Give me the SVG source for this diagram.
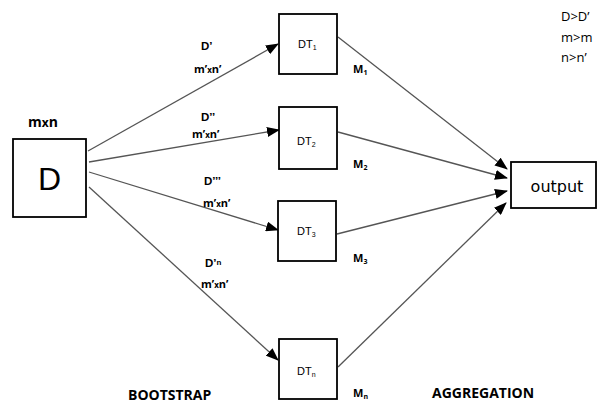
<svg xmlns="http://www.w3.org/2000/svg" width="598" height="405" viewBox="0 0 598 405">
<style>
.box{fill:#fff;stroke:#000;stroke-width:1.8}
.ln{stroke:#555;stroke-width:1.3;fill:none;marker-end:url(#ah)}
.lbl{font-family:"Liberation Sans",Arial,sans-serif;font-weight:bold;font-size:11.5px;fill:#000}
.sm{font-family:"Open Sans","Liberation Sans",sans-serif;font-weight:bold;font-size:11px;fill:#000}
.dt{font-family:"Liberation Sans",Arial,sans-serif;font-size:11px;fill:#000}
.hd{font-family:"Open Sans","Liberation Sans",sans-serif;font-weight:bold;font-size:14px;fill:#000}
.nt{font-family:"Open Sans","Liberation Sans",sans-serif;font-size:13px;fill:#000}
</style>
<defs>
<marker id="ah" markerWidth="13" markerHeight="10" refX="12" refY="5" orient="auto" markerUnits="userSpaceOnUse">
<path d="M0,0 L13,5 L0,10 Z" fill="#000"/>
</marker>
</defs>
<rect width="598" height="405" fill="#fff"/>
<g id="connectors">
<line class="ln" x1="88" y1="151" x2="278" y2="44"/>
<line class="ln" x1="89" y1="162" x2="279" y2="130"/>
<line class="ln" x1="89" y1="172" x2="278" y2="230"/>
<line class="ln" x1="89" y1="187" x2="278" y2="360"/>
<line class="ln" x1="338" y1="37" x2="507" y2="169"/>
<line class="ln" x1="338" y1="132" x2="507" y2="178"/>
<line class="ln" x1="337" y1="234" x2="507" y2="191"/>
<line class="ln" x1="338" y1="367" x2="506" y2="203"/>
</g>
<g id="D">
<rect class="box" x="13" y="139" width="73" height="78"/>
<text x="49.5" y="190" text-anchor="middle" font-family="Liberation Sans,Arial,sans-serif" font-size="32">D</text>
<text x="28" y="127" class="hd" font-size="15">m<tspan font-size="12">x</tspan>n</text>
</g>
<g id="DT1">
<rect class="box" x="279" y="14" width="58" height="60"/>
<text x="298" y="48" class="dt">DT<tspan font-size="7" dy="2">1</tspan></text>
</g>
<g id="DT2">
<rect class="box" x="279" y="107" width="58" height="62"/>
<text x="297" y="145" class="dt">DT<tspan font-size="7" dy="2">2</tspan></text>
</g>
<g id="DT3">
<rect class="box" x="278" y="201" width="58" height="60"/>
<text x="297" y="235" class="dt">DT<tspan font-size="7" dy="2">3</tspan></text>
</g>
<g id="DTn">
<rect class="box" x="279" y="339" width="58" height="60"/>
<text x="297" y="375" class="dt">DT<tspan font-size="7" dy="2">n</tspan></text>
</g>
<g id="output">
<rect class="box" x="511" y="162" width="85" height="46"/>
<text x="557" y="192" text-anchor="middle" font-family="DejaVu Sans,sans-serif" font-size="16">output</text>
</g>
<g id="labels">
<text x="201" y="50" class="lbl">D’</text>
<text x="194" y="73" class="sm">m’<tspan font-size="8">x</tspan>n’</text>
<text x="201" y="121" class="lbl">D’’</text>
<text x="192" y="138" class="sm">m’<tspan font-size="8">x</tspan>n’</text>
<text x="204" y="185" class="lbl">D’’’</text>
<text x="203" y="207" class="sm">m’<tspan font-size="8">x</tspan>n’</text>
<text x="205" y="267" class="lbl">D’<tspan font-size="8" dy="-2">n</tspan></text>
<text x="201" y="288" class="sm">m’<tspan font-size="8">x</tspan>n’</text>
<text x="353" y="73" class="sm">M<tspan font-size="7" dy="2">1</tspan></text>
<text x="353" y="168" class="sm">M<tspan font-size="7" dy="2">2</tspan></text>
<text x="353" y="262" class="sm">M<tspan font-size="7" dy="2">3</tspan></text>
<text x="353" y="397" class="sm">M<tspan font-size="7" dy="2">n</tspan></text>
<text x="128" y="400" class="hd">BOOTSTRAP</text>
<text x="432" y="398" class="hd">AGGREGATION</text>
<text x="561" y="21" class="nt">D&gt;D’</text>
<text x="561" y="42" class="nt">m&gt;m</text>
<text x="561" y="62" class="nt">n&gt;n’</text>
</g>
</svg>
